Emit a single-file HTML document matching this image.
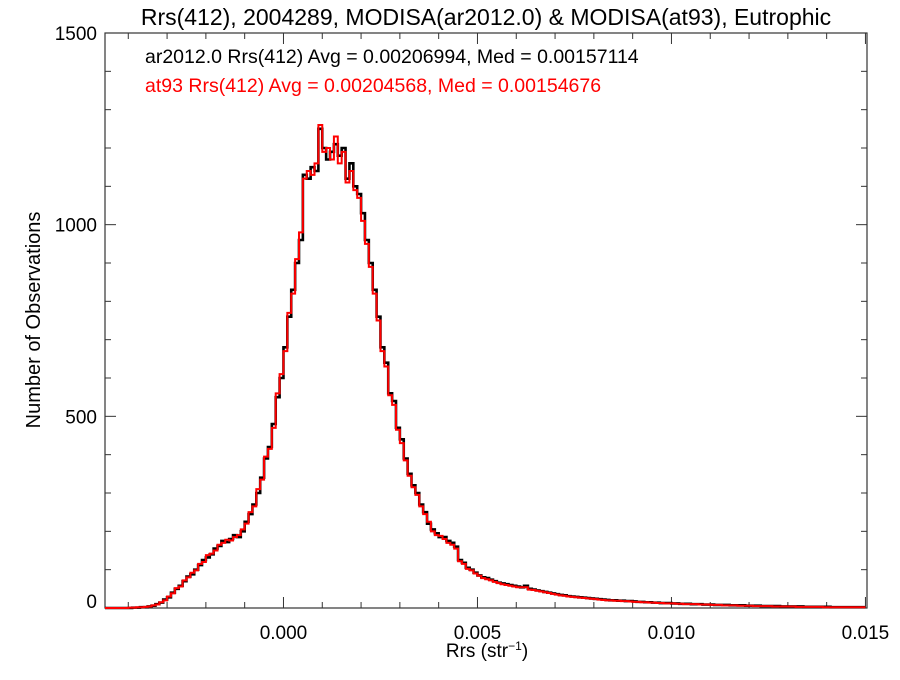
<!DOCTYPE html>
<html><head><meta charset="utf-8"><style>
body{margin:0;background:#fff;}
svg text{font-family:"Liberation Sans",Arial,sans-serif;}
</style></head><body>
<svg id="chart" width="900" height="675" xmlns="http://www.w3.org/2000/svg">
<rect width="900" height="675" fill="#fff"/>
<text x="486" y="25" font-size="23" text-anchor="middle" fill="#000">Rrs(412), 2004289, MODISA(ar2012.0) &amp; MODISA(at93), Eutrophic</text>
<text x="145" y="63" font-size="19.5" fill="#000">ar2012.0 Rrs(412) Avg = 0.00206994, Med = 0.00157114</text>
<text x="145" y="92" font-size="19.5" fill="#ff0000">at93 Rrs(412) Avg = 0.00204568, Med = 0.00154676</text>
<text x="487" y="657" font-size="19" text-anchor="middle" fill="#000">Rrs (str<tspan font-size="12" dy="-7">−1</tspan><tspan dy="7">)</tspan></text>
<text transform="translate(40,320) rotate(-90)" font-size="20" text-anchor="middle" fill="#000">Number of Observations</text>
<g id="axes"></g>
<g id="series"></g>
</svg>
<script>
const binStart = -0.0046;
const binWidth = 0.0001;
const ar2012Counts = [
0,0,0,0,0,0,0,1,1,2,
2,4,6,10,14,22,28,40,50,58,
70,82,88,100,112,125,132,140,155,162,
175,172,180,190,185,200,225,245,270,300,
340,390,420,480,550,600,680,760,830,900,
960,1130,1120,1150,1140,1250,1200,1170,1190,1210,
1180,1200,1120,1160,1100,1080,1030,960,900,830,
760,680,640,560,540,470,440,390,350,320,
300,270,250,220,205,195,185,185,175,170,
160,125,118,105,100,92,85,80,78,74,
70,66,64,62,60,58,56,54,58,50,
48,46,44,42,40,38,36,34,33,31,
30,29,28,27,26,25,24,23,22,21,
20,20,19,19,18,18,17,16,16,15,
15,14,14,13,13,13,12,12,11,11,
11,10,10,10,9,9,9,8,8,8,
8,7,7,7,7,6,6,6,6,5,
5,5,5,5,4,4,4,4,4,4,
3,3,3,3,3,3,3,2,2,2,
2,2,2,2,2,2];
const at93Counts = [
0,0,0,0,0,0,1,1,2,2,
3,4,7,9,15,20,30,38,52,56,
72,80,92,98,115,120,138,142,150,165,
170,178,176,185,190,205,220,250,265,310,
335,395,415,470,560,610,670,770,820,910,
980,1120,1140,1130,1160,1260,1190,1200,1170,1230,
1160,1190,1110,1140,1090,1070,1010,950,890,820,
750,670,630,555,530,465,430,385,345,315,
295,265,245,225,200,190,188,180,170,165,
155,122,115,102,98,90,84,78,75,72,
68,65,62,60,58,56,54,54,54,48,
47,45,43,41,39,37,35,33,32,30,
29,28,27,26,25,24,23,22,21,20,
20,19,19,18,18,17,16,16,15,15,
14,14,13,13,12,12,12,11,11,10,
10,10,10,9,9,9,8,8,8,7,
7,7,7,6,6,6,6,5,5,5,
5,5,4,4,4,4,4,4,3,3,
3,3,3,3,3,2,2,2,2,2,
2,2,2,2,2,2];
const xTickValues = [0.000, 0.005, 0.010, 0.015];
const xTickLabels = ["0.000", "0.005", "0.010", "0.015"];
const yTickValues = [0, 500, 1000, 1500];
const yTickLabels = ["0", "500", "1000", "1500"];

const NS = "http://www.w3.org/2000/svg";
const L = 105, R = 867, T = 33, B = 608;
const xMin = -0.0046, xMax = 0.01504, yMin = 0, yMax = 1500;
function xs(v){ return L + (v - xMin) / (xMax - xMin) * (R - L); }
function ys(v){ return B - (v - yMin) / (yMax - yMin) * (B - T); }
function mk(tag, attrs, parent){ const e = document.createElementNS(NS, tag); for (const k in attrs) e.setAttribute(k, attrs[k]); parent.appendChild(e); return e; }

const axes = document.getElementById('axes');
const frame = mk('rect', {x:L, y:T, width:R-L, height:B-T, fill:'none', stroke:'#333', 'stroke-width':1.2}, axes);



for (let k = -4; k <= 15; k++) {
  const v = k / 1000, x = xs(v);
  const major = k % 5 === 0, len = major ? 11 : 6;
  const t1 = mk('line', {x1:x, x2:x, y1:B, y2:B-len, stroke:'#333', 'stroke-width':1}, axes);
  
  
  const t2 = mk('line', {x1:x, x2:x, y1:T, y2:T+len, stroke:'#333', 'stroke-width':1}, axes);
  
  
}
xTickValues.forEach((v, i) => {
  const t = mk('text', {x:xs(v), y:639, 'font-size':19, 'text-anchor':'middle', fill:'#000'}, axes);
  t.textContent = xTickLabels[i];
  
  
});
for (let k = 0; k <= 1500; k += 100) {
  const y = ys(k), major = k % 500 === 0, len = major ? 11 : 6;
  const t1 = mk('line', {x1:L, x2:L+len, y1:y, y2:y, stroke:'#333', 'stroke-width':1}, axes);
  
  
  const t2 = mk('line', {x1:R, x2:R-len, y1:y, y2:y, stroke:'#333', 'stroke-width':1}, axes);
  
  
}
yTickValues.forEach((v, i) => {
  const t = mk('text', {x:97, y:ys(v) + (v === 0 ? 0 : 7), 'font-size':19, 'text-anchor':'end', fill:'#000'}, axes);
  t.textContent = yTickLabels[i];
  
  
});

function stepPath(counts){
  let d = 'M' + xs(binStart).toFixed(2) + ',' + ys(counts[0]).toFixed(2);
  for (let i = 0; i < counts.length; i++) {
    const x0 = xs(binStart + i * binWidth), x1 = xs(binStart + (i + 1) * binWidth);
    d += ' L' + x0.toFixed(2) + ',' + ys(counts[i]).toFixed(2) + ' L' + x1.toFixed(2) + ',' + ys(counts[i]).toFixed(2);
  }
  return d;
}
const series = document.getElementById('series');
const p1 = mk('path', {d:stepPath(ar2012Counts), fill:'none', stroke:'#000', 'stroke-width':2.6, 'stroke-linejoin':'miter'}, series);


const p2 = mk('path', {d:stepPath(at93Counts), fill:'none', stroke:'#ff0000', 'stroke-width':2, 'stroke-linejoin':'miter'}, series);


</script>
</body></html>
